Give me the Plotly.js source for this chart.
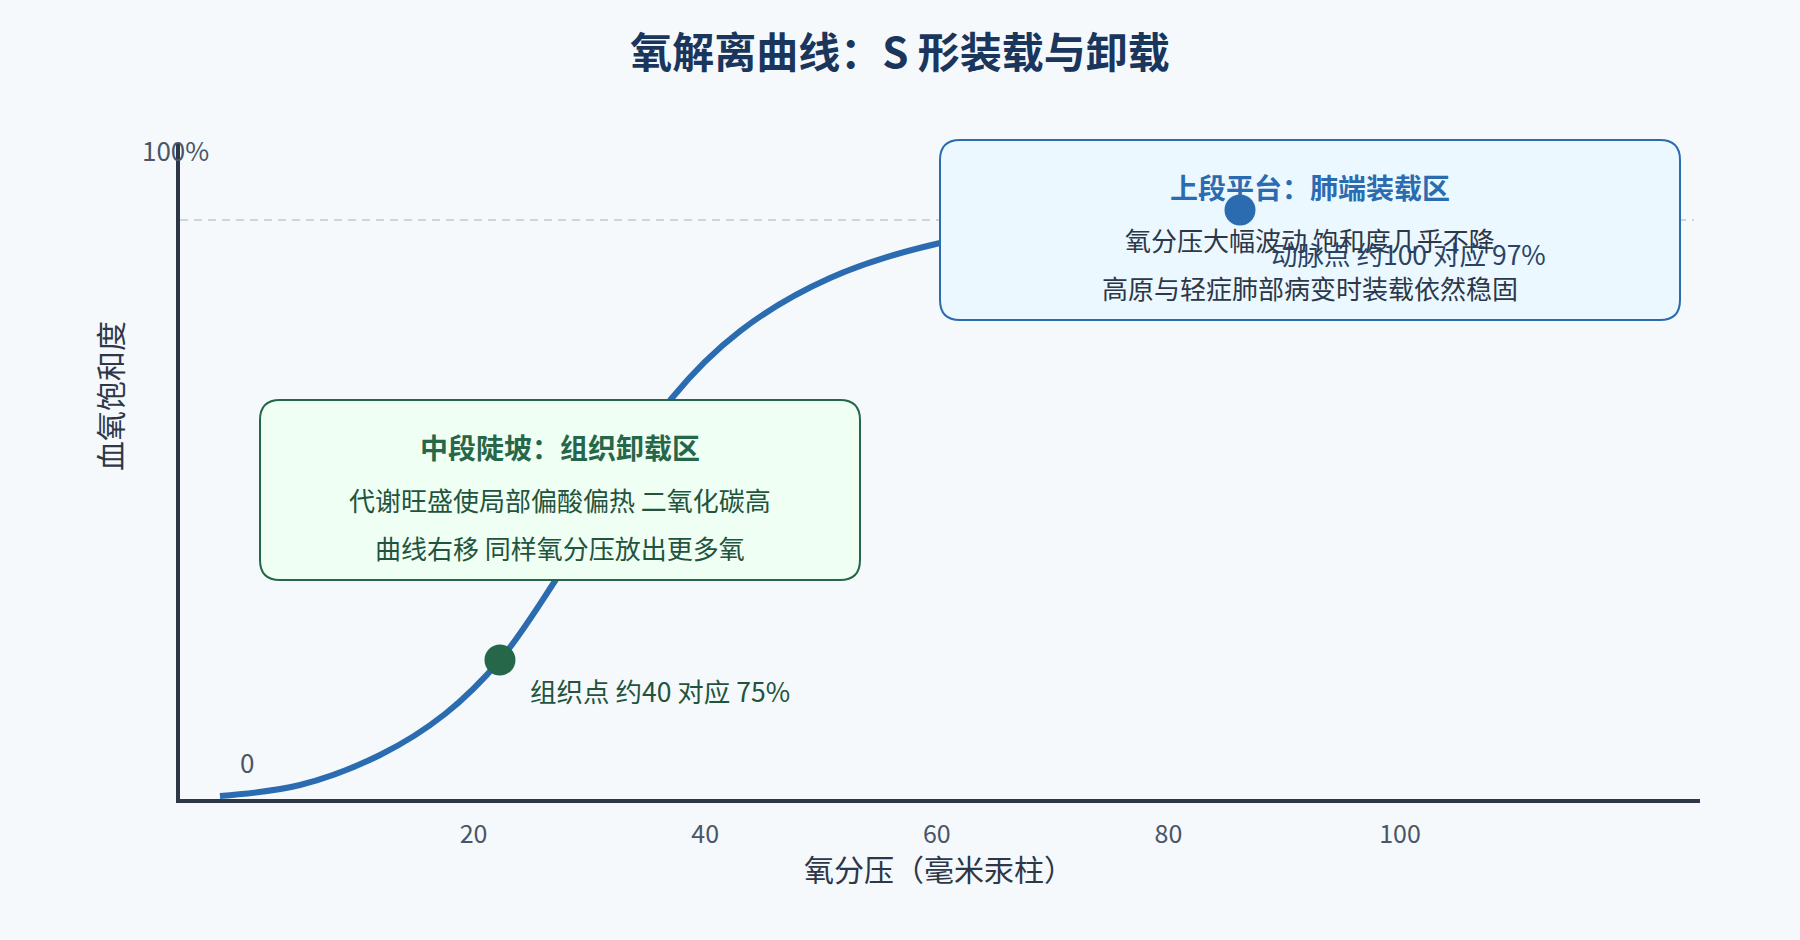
<!DOCTYPE html>
<html>
<head>
<meta charset="utf-8">
<script src="https://cdn.plot.ly/plotly-3.0.1.min.js"></script>
<style>
  html, body { margin: 0; padding: 0; background: #f5f9fc; }
  #chart { width: 1800px; height: 940px; }
</style>
</head>
<body>
<div id="chart"></div>
<script>
// ---- data ----
const pO2 = [-1.9, 5.01, 11.92, 17.53, 22.28, 27.2, 32.21, 37.13, 43.01, 50.78, 60.28, 73.23, 86.18, 100];
const saturation = [0.46, 2.13, 6.71, 12.96, 21.19, 33.69, 47.71, 61.13, 71.34, 79.42, 84.76, 88.11, 89.79, 90.73];

const tissuePoint = [22.28, 21.19];
const arterialPoint = [86.18, 89.79];
const plateauLine = 88.26;

const xTickVals = [20, 40, 60, 80, 100];
const xTickText = ["20", "40", "60", "80", "100"];

const titleText = "氧解离曲线：S 形装载与卸载";
const xTitle = "氧分压（毫米汞柱）";
const yTitle = "血氧饱和度";
const tissueLabel = "组织点 约40 对应 75%";
const arterialLabel = "动脉点 约100 对应 97%";
const midBoxTitle = "中段陡坡：组织卸载区";
const midBoxLines = ["代谢旺盛使局部偏酸偏热 二氧化碳高", "曲线右移 同样氧分压放出更多氧"];
const topBoxTitle = "上段平台：肺端装载区";
const topBoxLines = ["氧分压大幅波动 饱和度几乎不降", "高原与轻症肺部病变时装载依然稳固"];

// ---- layout helpers (pixel -> paper) ----
const FONT = '"Noto Sans CJK SC", "Noto Sans", sans-serif';
const PL = 180, PR = 1700, PT = 143, PB = 799;
const px = p => (p - PL) / (PR - PL);
const py = p => (PB - p) / (PB - PT);

function roundedRect(x0, y0, x1, y1, r) {
  const X = px, Y = py;
  return `M ${X(x0 + r)} ${Y(y0)} L ${X(x1 - r)} ${Y(y0)} Q ${X(x1)} ${Y(y0)} ${X(x1)} ${Y(y0 + r)} ` +
         `L ${X(x1)} ${Y(y1 - r)} Q ${X(x1)} ${Y(y1)} ${X(x1 - r)} ${Y(y1)} ` +
         `L ${X(x0 + r)} ${Y(y1)} Q ${X(x0)} ${Y(y1)} ${X(x0)} ${Y(y1 - r)} ` +
         `L ${X(x0)} ${Y(y0 + r)} Q ${X(x0)} ${Y(y0)} ${X(x0 + r)} ${Y(y0)} Z`;
}

const midBox = {x0: 260, y0: 400, x1: 860, y1: 580};
const topBox = {x0: 940, y0: 140, x1: 1680, y1: 320};

function boxTexts(box, title, lines, titleColor, bodyColor) {
  const cx = (box.x0 + box.x1) / 2;
  const out = [{
    xref: 'paper', yref: 'paper', x: px(cx), y: py(box.y0 + 47),
    xanchor: 'center', yanchor: 'middle', showarrow: false, text: '<b>' + title + '</b>',
    font: {family: FONT, size: 28, color: titleColor}
  }];
  lines.forEach((t, i) => out.push({
    xref: 'paper', yref: 'paper', x: px(cx), y: py(box.y0 + 99 + i * 48),
    xanchor: 'center', yanchor: 'middle', showarrow: false, text: t,
    font: {family: FONT, size: 26, color: bodyColor}
  }));
  return out;
}

const traces = [
  {
    type: 'scatter', mode: 'lines', x: pO2, y: saturation,
    line: {color: '#2b6cb0', width: 6, shape: 'spline', smoothing: 1},
    hoverinfo: 'skip', showlegend: false
  },
  {
    type: 'scatter', mode: 'markers', x: [tissuePoint[0]], y: [tissuePoint[1]],
    marker: {size: 31, color: '#276749'}, hoverinfo: 'skip', showlegend: false
  }
];

const annotations = [
  {xref: 'paper', yref: 'paper', x: px(939), y: py(868), xanchor: 'center', yanchor: 'middle',
   showarrow: false, text: xTitle, font: {family: FONT, size: 30, color: '#2d3748'}},
  {xref: 'paper', yref: 'paper', x: px(109), y: py(396), xanchor: 'center', yanchor: 'middle',
   showarrow: false, text: yTitle, textangle: -90, font: {family: FONT, size: 30, color: '#2d3748'}},
  {xref: 'paper', yref: 'paper', x: px(175), y: py(150), xanchor: 'center', yanchor: 'middle',
   showarrow: false, text: '100%', font: {family: FONT, size: 26, color: '#4a5568'}},
  {xref: 'paper', yref: 'paper', x: px(247), y: py(761), xanchor: 'center', yanchor: 'middle',
   showarrow: false, text: '0', font: {family: FONT, size: 26, color: '#4a5568'}},
  {xref: 'x', yref: 'y', x: tissuePoint[0], y: tissuePoint[1], xanchor: 'left', yanchor: 'middle',
   xshift: 28, yshift: -31, showarrow: false, text: tissueLabel,
   font: {family: FONT, size: 26.5, color: '#22543d'}},
  ...boxTexts(midBox, midBoxTitle, midBoxLines, '#276749', '#22543d'),
  ...boxTexts(topBox, topBoxTitle, topBoxLines, '#2b6cb0', '#2d3748'),
  {xref: 'x', yref: 'y', x: arterialPoint[0], y: arterialPoint[1], xanchor: 'left', yanchor: 'middle',
   xshift: 29, yshift: -44, showarrow: false, text: arterialLabel,
   font: {family: FONT, size: 26.5, color: '#2a4365'}}
];

const shapes = [
  {type: 'line', xref: 'paper', yref: 'y', x0: 0, x1: px(1694), y0: plateauLine, y1: plateauLine,
   line: {color: '#cbd5e0', width: 2, dash: '8px,6px'}, layer: 'below'},
  {type: 'path', xref: 'paper', yref: 'paper', path: roundedRect(midBox.x0, midBox.y0, midBox.x1, midBox.y1, 20),
   fillcolor: '#f0fff4', line: {color: '#276749', width: 2}, layer: 'above'},
  {type: 'path', xref: 'paper', yref: 'paper', path: roundedRect(topBox.x0, topBox.y0, topBox.x1, topBox.y1, 20),
   fillcolor: '#ebf8ff', line: {color: '#2b6cb0', width: 2}, layer: 'above'},
  {type: 'circle', xref: 'x', yref: 'y', xsizemode: 'pixel', ysizemode: 'pixel',
   xanchor: arterialPoint[0], yanchor: arterialPoint[1], x0: -15.5, x1: 15.5, y0: -15.5, y1: 15.5,
   fillcolor: '#2b6cb0', line: {width: 0}, layer: 'above'}
];

const layout = {
  width: 1800, height: 940,
  paper_bgcolor: '#f5f9fc', plot_bgcolor: 'rgba(0,0,0,0)',
  margin: {l: PL, r: 1800 - PR, t: PT, b: 940 - PB, autoexpand: false},
  title: {
    text: '<b>' + titleText + '</b>', x: 0.5, xref: 'container', xanchor: 'center',
    y: 1 - 53 / 940, yref: 'container', yanchor: 'middle',
    font: {family: FONT, size: 42, color: '#1a365d'}
  },
  xaxis: {
    range: [-5.35, 125.9], showgrid: false, zeroline: false,
    showline: true, linecolor: '#2d3748', linewidth: 4,
    tickmode: 'array', tickvals: xTickVals, ticktext: xTickText, ticks: '',
    ticklabelstandoff: 10,
    tickfont: {family: FONT, size: 25, color: '#4a5568'}, fixedrange: true
  },
  yaxis: {
    range: [0, 100], showgrid: false, zeroline: false,
    showline: true, linecolor: '#2d3748', linewidth: 4,
    showticklabels: false, ticks: '', fixedrange: true
  },
  shapes: shapes,
  annotations: annotations,
  showlegend: false
};

Plotly.newPlot('chart', traces, layout, {displayModeBar: false, staticPlot: true});
</script>
</body>
</html>
